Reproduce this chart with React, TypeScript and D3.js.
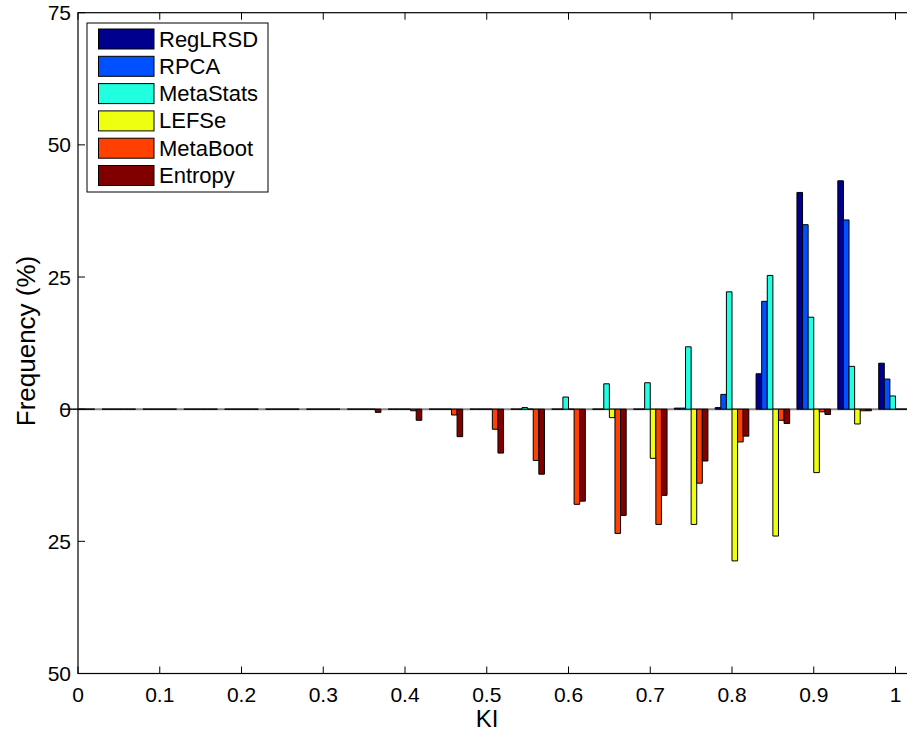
import React from "react";
import * as d3 from "d3";

const bins = [0, 0.05, 0.1, 0.15, 0.2, 0.25, 0.3, 0.35, 0.4, 0.45, 0.5, 0.55, 0.6, 0.65, 0.7, 0.75, 0.8, 0.85, 0.9, 0.95, 1.0];
const seriesNames = ["RegLRSD", "RPCA", "MetaStats", "LEFSe", "MetaBoot", "Entropy"];
const seriesColors = ["#00008F", "#0050FF", "#20FFDF", "#EFFF10", "#FF4000", "#800000"];

const regLRSD = [0, 0, 0, 0, 0, 0, 0, 0, 0, 0, 0, 0, 0, 0, 0, 0.2, 0.3, 6.7, 41.0, 43.2, 8.7];
const rpca = [0, 0, 0, 0, 0, 0, 0, 0, 0, 0, 0, 0, 0, 0, 0, 0.2, 2.8, 20.4, 34.9, 35.8, 5.7];
const metaStats = [0, 0, 0, 0, 0, 0, 0, 0, 0, 0, 0, 0.3, 2.3, 4.8, 5.0, 11.8, 22.2, 25.3, 17.4, 8.1, 2.5];
const lefse = [0, 0, 0, 0, 0, 0, 0, 0, 0, 0, 0, 0, 0, -1.6, -9.3, -21.8, -28.7, -24.0, -12.0, -2.8, 0];
const metaBoot = [0, 0, 0, 0, 0, 0, 0, 0, -0.3, -1.1, -3.8, -9.7, -18.0, -23.5, -21.8, -14.0, -6.2, -2.1, -0.5, -0.3, 0];
const entropy = [0, 0, 0, 0, 0, 0, 0, -0.6, -2.1, -5.2, -8.3, -12.3, -17.4, -20.1, -16.3, -9.8, -5.1, -2.7, -1.0, -0.3, 0];

const seriesValues = [regLRSD, rpca, metaStats, lefse, metaBoot, entropy];

const xTicks = [0, 0.1, 0.2, 0.3, 0.4, 0.5, 0.6, 0.7, 0.8, 0.9, 1];
const xTickLabels = ["0", "0.1", "0.2", "0.3", "0.4", "0.5", "0.6", "0.7", "0.8", "0.9", "1"];
const yTicks = [75, 50, 25, 0, -25, -50];
const yTickLabels = ["75", "50", "25", "0", "25", "50"];

const W = 907;
const H = 734;
const FONT = "'Liberation Sans', Arial, Helvetica, sans-serif";

export default function App() {
  const left = 78;
  const top = 12.7;
  const bottom = 673.5;
  const x = d3.scaleLinear().domain([0, 1.05]).range([left, left + 1.05 * 817.5]);
  const y = d3.scaleLinear().domain([-50, 75]).range([bottom, top]);
  const right = x(1.05);
  const groupWidth = 0.0411;
  const bw = groupWidth / 6;
  const tickLen = 7;

  const bars: JSX.Element[] = [];
  seriesValues.forEach((vals, si) => {
    vals.forEach((v, bi) => {
      const x0 = x(bins[bi] + (si - 3) * bw);
      const x1 = x(bins[bi] + (si - 2) * bw);
      const y0 = y(0);
      const y1 = y(v);
      const p = d3.path();
      p.moveTo(x0, y0);
      p.lineTo(x1, y0);
      p.lineTo(x1, y1);
      p.lineTo(x0, y1);
      p.closePath();
      bars.push(
        <path key={`b-${si}-${bi}`} d={p.toString()} fill={seriesColors[si]} stroke="#000" strokeWidth={1} />
      );
    });
  });

  const legX = 87;
  const legY = 23;
  const rowH = 27.3;

  return (
    <svg width={W} height={H} style={{ position: "absolute", left: 0, top: 0, background: "#fff" }} fontFamily={FONT}>
      <rect x={0} y={0} width={W} height={H} fill="#fff" />
      <line x1={left} x2={right} y1={y(0)} y2={y(0)} stroke="#888" strokeWidth={2} />
      {bars}
      <rect x={left} y={top} width={right - left} height={bottom - top} fill="none" stroke="#000" strokeWidth={1.2} />
      {xTicks.map((t, i) => (
        <g key={`xt-${i}`}>
          <line x1={x(t)} x2={x(t)} y1={bottom} y2={bottom - tickLen} stroke="#000" strokeWidth={1} />
          <line x1={x(t)} x2={x(t)} y1={top} y2={top + tickLen} stroke="#000" strokeWidth={1} />
          <text x={x(t)} y={701.5} fontSize={21} textAnchor="middle" fill="#000">
            {xTickLabels[i]}
          </text>
        </g>
      ))}
      {yTicks.map((t, i) => (
        <g key={`yt-${i}`}>
          <line x1={left} x2={left + tickLen} y1={y(t)} y2={y(t)} stroke="#000" strokeWidth={1} />
          <text x={71} y={y(t) + 7.5} fontSize={21} textAnchor="end" fill="#000">
            {yTickLabels[i]}
          </text>
        </g>
      ))}
      <text x={487} y={727} fontSize={24} textAnchor="middle" fill="#000">
        KI
      </text>
      <text transform={`translate(35, ${341}) rotate(-90)`} fontSize={26} textAnchor="middle" fill="#000">
        Frequency (%)
      </text>
      <rect x={legX} y={legY} width={181} height={169} fill="#fff" stroke="#000" strokeWidth={1} />
      {seriesNames.map((n, i) => (
        <g key={`lg-${i}`}>
          <rect x={98.5} y={29 + i * rowH} width={55.5} height={20} fill={seriesColors[i]} stroke="#000" strokeWidth={1} />
          <text x={159} y={46.5 + i * rowH} fontSize={22} fill="#000">
            {n}
          </text>
        </g>
      ))}
    </svg>
  );
}
